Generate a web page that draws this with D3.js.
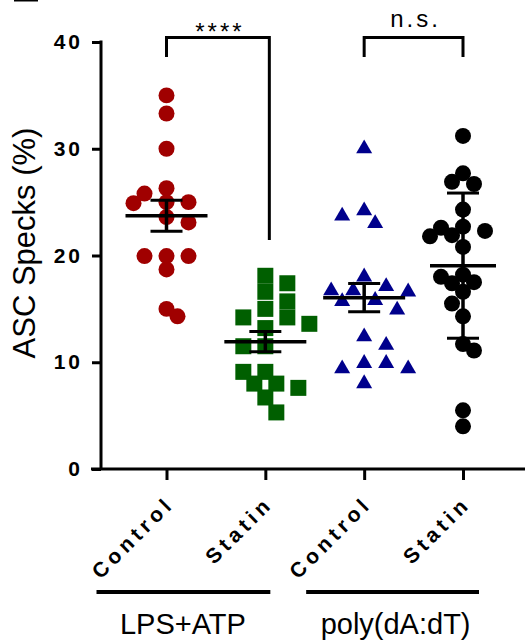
<!DOCTYPE html>
<html>
<head>
<meta charset="utf-8">
<script src="https://cdn.jsdelivr.net/npm/d3@7"></script>
<style>
  body { margin: 0; background: #fff; }
  text { font-family: "Liberation Sans", Arial, sans-serif; }
</style>
</head>
<body>
<div class="chart"></div>
<script>
// values (ASC specks, %)
var categories = ["Control", "Statin", "Control", "Statin"];
var groups = ["LPS+ATP", "poly(dA:dT)"];
var lpsControl = [35, 33.3, 30, 26.3, 25.8, 25.0, 25.0, 24.9, 23.6, 23.1, 19.95, 19.95, 19.95, 18.7, 15.0, 14.3];
var lpsStatin = [18.1, 17.4, 16.6, 15.7, 15.0, 14.2, 14.2, 13.6, 13.2, 11.5, 11.5, 9.1, 9.1, 8.0, 8.0, 7.6, 6.7, 5.3];
var polyControl = [30, 24.2, 23.7, 23.0, 18.0, 17.1, 16.7, 16.7, 16.6, 15.8, 15.7, 14.9, 12.4, 11.6, 9.9, 9.9, 9.4, 9.4, 8.0];
var polyStatin = [31.2, 27.7, 26.9, 26.7, 24.3, 22.7, 22.6, 22.3, 21.9, 21.8, 20.8, 18.2, 18.0, 17.5, 17.4, 16.6, 15.5, 14.3, 11.7, 11.1, 5.5, 4.0];
var means = [23.73, 11.93, 16.05, 19.05];
var errors = [1.45, 0.94, 1.33, 6.8];
var yTicks = [0, 10, 20, 30, 40];
var sigLabels = ["****", "n.s."];

var series = [lpsControl, lpsStatin, polyControl, polyStatin];
var colors = ["#a00000", "#005f00", "#00008c", "#000000"];
var shapes = [d3.symbolCircle, d3.symbolSquare, d3.symbolTriangle, d3.symbolCircle];
var shapeSizes = [201, 256, 111, 201];
var meanHalf = [41, 41, 41, 33];
var spacing = [13, 15.5, 15, 12.5];

var svgWidth = 525, svgHeight = 644;

var svg = d3.select(".chart")
    .append("svg")
    .attr("width", svgWidth)
    .attr("height", svgHeight);

var yScale = d3.scaleLinear()
    .domain([0, 40])
    .range([469, 42]);

var xScale = d3.scalePoint()
    .domain(d3.range(categories.length))
    .range([166.5, 463]);

// little leftover stroke at the top-left corner
svg.append("line")
    .attr("x1", 14).attr("x2", 38)
    .attr("y1", 0.5).attr("y2", 0.5)
    .attr("stroke", "#000").attr("stroke-width", 2);

// y axis
var leftAxis = d3.axisLeft(yScale).tickValues(yTicks).tickSize(9).tickPadding(9).tickFormat(d3.format("d"));
var yAxis = svg.append("g")
    .attr("transform", "translate(101,0)")
    .call(leftAxis);
yAxis.select(".domain").remove();
yAxis.append("line")
    .attr("x1", 0).attr("x2", 0)
    .attr("y1", yScale(40) - 1.5).attr("y2", yScale(0))
    .attr("stroke", "#000").attr("stroke-width", 3);
yAxis.selectAll(".tick line").attr("stroke", "#000").attr("stroke-width", 3);
yAxis.selectAll(".tick text")
    .attr("fill", "#000")
    .attr("font-size", "21px")
    .attr("font-weight", "bold")
    .attr("letter-spacing", "3px")
    .attr("font-family", "Liberation Sans, Arial, sans-serif");

// x axis
var bottomAxis = d3.axisBottom(xScale).tickSize(11).tickFormat("");
var xAxis = svg.append("g")
    .attr("transform", "translate(0," + yScale(0) + ")")
    .call(bottomAxis);
xAxis.select(".domain").remove();
xAxis.append("line")
    .attr("x1", 91).attr("x2", svgWidth)
    .attr("stroke", "#000").attr("stroke-width", 3);
xAxis.selectAll(".tick line").attr("stroke", "#000").attr("stroke-width", 3);

svg.selectAll(".catLabel")
    .data(categories)
    .enter()
    .append("text")
    .attr("class", "catLabel")
    .attr("transform", (d, i) => "translate(" + (xScale(i) + 9) + ",505) rotate(-45)")
    .attr("text-anchor", "end")
    .attr("font-size", "21px")
    .attr("font-weight", "bold")
    .attr("letter-spacing", "4.5px")
    .text(d => d);

// group lines + labels
var groupX = [[xScale(0) - 70, xScale(1) + 5], [xScale(2) - 58, xScale(3) + 16]];
groups.forEach(function (g, i) {
    svg.append("line")
        .attr("x1", groupX[i][0]).attr("x2", groupX[i][1])
        .attr("y1", 592).attr("y2", 592)
        .attr("stroke", "#000").attr("stroke-width", 4);
    svg.append("text")
        .attr("x", (xScale(i * 2) + xScale(i * 2 + 1)) / 2 + (i == 0 ? -33 : -18))
        .attr("y", 634)
        .attr("text-anchor", "middle")
        .attr("font-size", "29px")
        .text(g);
});

// y title
svg.append("text")
    .attr("transform", "rotate(-90)")
    .attr("x", -243)
    .attr("y", 35)
    .attr("text-anchor", "middle")
    .attr("font-size", "31px")
    .text("ASC Specks (%)");

// simple beeswarm: go top-down, nudge sideways until no overlap
function swarm(values, cx, minDist) {
    var placed = [];
    var step = 11;
    values.slice().sort((a, b) => b - a).forEach(function (v, n) {
        var y = yScale(v);
        for (var k = 0; k < 20; k++) {
            var sign = (n % 2 == 0) ? 1 : -1;
            var offs = k == 0 ? [0] : [-sign * k * step, sign * k * step];
            var found = null;
            for (var j = 0; j < offs.length; j++) {
                var ok = placed.every(p => Math.hypot(p.x - (cx + offs[j]), p.y - y) >= minDist);
                if (ok) { found = offs[j]; break; }
            }
            if (found !== null) { placed.push({ x: cx + found, y: y, v: v }); break; }
        }
    });
    return placed;
}

series.forEach(function (vals, i) {
    var pts = swarm(vals, xScale(i), spacing[i]);
    svg.append("g")
        .selectAll("path")
        .data(pts)
        .enter()
        .append("path")
        .attr("transform", d => "translate(" + d.x + "," + d.y + ")")
        .attr("d", d3.symbol().type(shapes[i]).size(shapeSizes[i]))
        .attr("fill", colors[i]);
});

// mean +/- error bars
var bars = svg.append("g").attr("stroke", "#000");
means.forEach(function (m, i) {
    var cx = xScale(i);
    bars.append("line")
        .attr("x1", cx).attr("x2", cx)
        .attr("y1", yScale(m + errors[i])).attr("y2", yScale(m - errors[i]))
        .attr("stroke-width", 3.5);
    [m + errors[i], m - errors[i]].forEach(function (e) {
        bars.append("line")
            .attr("x1", cx - 16).attr("x2", cx + 16)
            .attr("y1", yScale(e)).attr("y2", yScale(e))
            .attr("stroke-width", 3);
    });
    bars.append("line")
        .attr("x1", cx - meanHalf[i]).attr("x2", cx + meanHalf[i])
        .attr("y1", yScale(m)).attr("y2", yScale(m))
        .attr("stroke-width", 3.5);
});

// significance brackets
var brackets = [
    { a: 0, b: 1, legA: 57, legB: 240, dxB: 4 },
    { a: 2, b: 3, legA: 57, legB: 57, dxB: 0 }
];
brackets.forEach(function (br, i) {
    var x1 = xScale(br.a), x2 = xScale(br.b) + br.dxB;
    svg.append("path")
        .attr("d", "M" + x1 + "," + br.legA + "V37.5H" + x2 + "V" + br.legB)
        .attr("fill", "none")
        .attr("stroke", "#000")
        .attr("stroke-width", 3);
    svg.append("text")
        .attr("x", (x1 + x2) / 2 + 2)
        .attr("y", i == 0 ? 40 : 27)
        .attr("text-anchor", "middle")
        .attr("font-size", "24px")
        .attr("letter-spacing", "3px")
        .text(sigLabels[i]);
});
</script>
</body>
</html>
